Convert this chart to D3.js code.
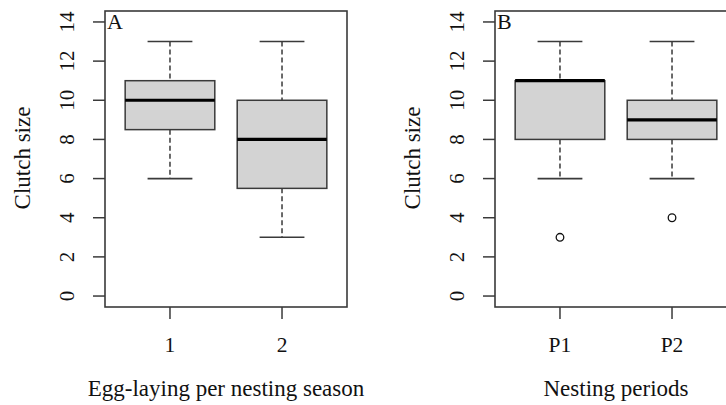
<!DOCTYPE html>
<html>
<head>
<meta charset="utf-8">
<script src="https://cdn.jsdelivr.net/npm/d3@7"></script>
<style>
  body { margin: 0; background: #fff; }
  svg { display: block; }
</style>
</head>
<body>
<svg id="chart" width="726" height="405"></svg>
<script>
// panel A: egg-laying per nesting season
var groupsA = ["1", "2"];
var statsA = [
  {min: 6, q1: 8.5, med: 10, q3: 11, max: 13, out: []},
  {min: 3, q1: 5.5, med: 8, q3: 10, max: 13, out: []}
];
// panel B: nesting periods
var groupsB = ["P1", "P2"];
var statsB = [
  {min: 6, q1: 8, med: 11, q3: 11, max: 13, out: [3]},
  {min: 6, q1: 8, med: 9, q3: 10, max: 13, out: [4]}
];
var yTicks = [0, 2, 4, 6, 8, 10, 12, 14];

var svg = d3.select("#chart");
var lineCol = "#3a3a3a";
var serif = "'Liberation Serif', 'Times New Roman', Times, 'DejaVu Serif', serif";

function label(g, txt, size){
  return g.append("text").attr("font-family", serif).attr("font-size", size)
    .attr("fill", "#111").text(txt);
}

function drawPanel(ox, letter, groups, stats, xTitle){
  var left = ox + 105, right = ox + 347, top = 11, bottom = 307;
  var g = svg.append("g");

  // R style: xlim c(0.5, n+0.5) plus 4%
  var x = d3.scaleLinear().domain([0.42, 2.58]).range([left, right]);
  var y = d3.scaleLinear().domain([-0.56, 14.56]).range([bottom, top]);

  stats.forEach(function(s, i){
    var cx = x(i + 1);
    var hw = x(i + 1.4) - cx, sw = x(i + 1.2) - cx;
    // whiskers
    g.append("line").attr("x1", cx).attr("x2", cx).attr("y1", y(s.max)).attr("y2", y(s.q3))
      .attr("stroke", lineCol).attr("stroke-width", 1.5).attr("stroke-dasharray", "5,3");
    g.append("line").attr("x1", cx).attr("x2", cx).attr("y1", y(s.q1)).attr("y2", y(s.min))
      .attr("stroke", lineCol).attr("stroke-width", 1.5).attr("stroke-dasharray", "5,3");
    // staples
    [s.min, s.max].forEach(function(v){
      g.append("line").attr("x1", cx - sw).attr("x2", cx + sw).attr("y1", y(v)).attr("y2", y(v))
        .attr("stroke", lineCol).attr("stroke-width", 1.6);
    });
    // box
    g.append("rect").attr("x", cx - hw).attr("width", 2 * hw)
      .attr("y", y(s.q3)).attr("height", y(s.q1) - y(s.q3))
      .attr("fill", "#d3d3d3").attr("stroke", lineCol).attr("stroke-width", 1.5);
    g.append("line").attr("x1", cx - hw).attr("x2", cx + hw).attr("y1", y(s.med)).attr("y2", y(s.med))
      .attr("stroke", "#000").attr("stroke-width", 3.2);
    s.out.forEach(function(v){
      g.append("circle").attr("cx", cx).attr("cy", y(v)).attr("r", 3.8)
        .attr("fill", "none").attr("stroke", "#111").attr("stroke-width", 1.3);
    });
  });

  // frame
  g.append("rect").attr("x", left).attr("y", top).attr("width", right - left).attr("height", bottom - top)
    .attr("fill", "none").attr("stroke", lineCol).attr("stroke-width", 1.6);

  // y axis
  yTicks.forEach(function(v){
    g.append("line").attr("x1", left - 12).attr("x2", left).attr("y1", y(v)).attr("y2", y(v))
      .attr("stroke", lineCol).attr("stroke-width", 1.5);
    var tx = ox + 74;
    label(g, v, 21).attr("x", tx).attr("y", y(v)).attr("text-anchor", "middle")
      .attr("transform", "rotate(-90," + tx + "," + y(v) + ")");
  });
  var ty = ox + 30;
  label(g, "Clutch size", 23).attr("x", ty).attr("y", 158).attr("text-anchor", "middle")
    .attr("transform", "rotate(-90," + ty + ",158)");

  // x axis
  groups.forEach(function(name, i){
    g.append("line").attr("x1", x(i + 1)).attr("x2", x(i + 1)).attr("y1", bottom).attr("y2", bottom + 12)
      .attr("stroke", lineCol).attr("stroke-width", 1.5);
    label(g, name, 21.5).attr("x", x(i + 1)).attr("y", 352).attr("text-anchor", "middle");
  });
  label(g, xTitle, 23).attr("x", (left + right) / 2).attr("y", 396).attr("text-anchor", "middle");

  label(g, letter, 22).attr("x", left + 2).attr("y", 29);
}

drawPanel(0, "A", groupsA, statsA, "Egg-laying per nesting season");
drawPanel(390, "B", groupsB, statsB, "Nesting periods");
</script>
</body>
</html>
